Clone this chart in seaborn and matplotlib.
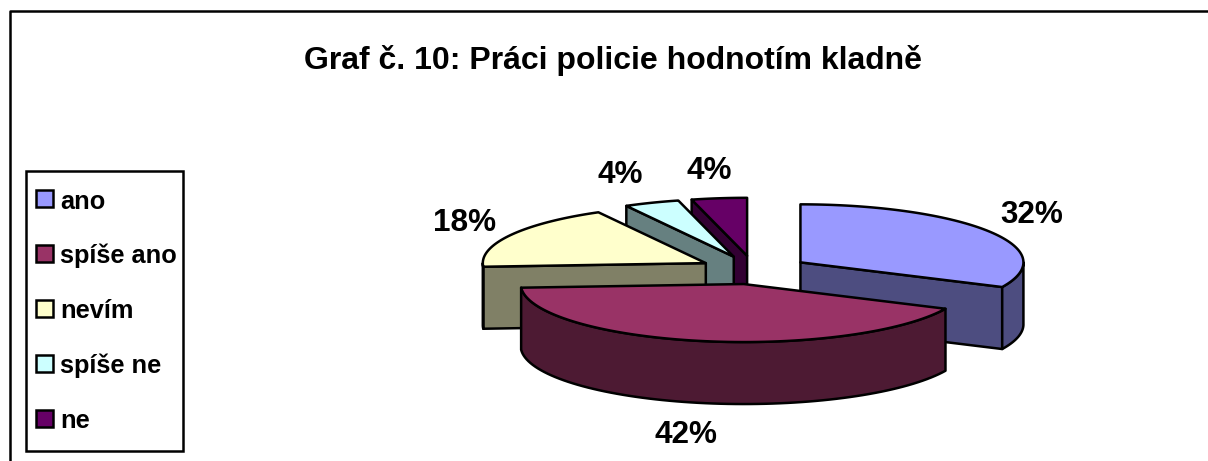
import matplotlib
matplotlib.use("Agg")
import matplotlib.pyplot as plt
import numpy as np
import seaborn as sns
from matplotlib.patches import Polygon, Rectangle

TITLE = "Graf č. 10: Práci policie hodnotím kladně"
CATEGORIES = ["ano", "spíše ano", "nevím", "spíše ne", "ne"]
VALUES = [32, 42, 18, 4, 4]
COLORS = ["#9999FF", "#993366", "#FFFFCC", "#CCFFFF", "#660066"]

# layout, in pixels of the 1208x461 picture
CENTER = (754, 270)
RX, RY = 223, 58
DEPTH = 62
EXPLODE = 0.2466
DRAW_ORDER = [4, 3, 2, 0, 1]
LABEL_POS = [(1032, 223), (686, 443), (465, 231), (620, 183), (709.5, 179)]
LINE = 1.8

sns.set_theme(style="white")
plt.rcParams["font.family"] = ["Liberation Sans", "DejaVu Sans"]


def rim_points(cx, cy, start, stop):
    angles = np.radians(np.linspace(start, stop, 80))
    return np.column_stack([cx + RX * np.sin(angles), cy - RY * np.cos(angles)])


def extrude(ax, top_edge, color):
    wall = np.vstack([top_edge, top_edge[::-1] + [0, DEPTH]])
    ax.add_patch(Polygon(wall, closed=True, facecolor=color, edgecolor="black", linewidth=LINE, joinstyle="round"))


def draw_slice(ax, start, stop, color):
    mid = np.radians((start + stop) / 2)
    cx = CENTER[0] + EXPLODE * RX * np.sin(mid)
    cy = CENTER[1] - EXPLODE * RY * np.cos(mid)
    side = np.array(color) * 0.5

    # cut faces turned towards the viewer
    if np.sin(np.radians(start)) < -1e-9:
        extrude(ax, np.vstack([[cx, cy], rim_points(cx, cy, start, start)[:1]]), side)
    if np.sin(np.radians(stop)) > 1e-9:
        extrude(ax, np.vstack([[cx, cy], rim_points(cx, cy, stop, stop)[:1]]), side)

    # only the front half of the rim shows
    low, high = max(start, 90), min(stop, 270)
    if low < high:
        extrude(ax, rim_points(cx, cy, low, high), side)

    top = np.vstack([[cx, cy], rim_points(cx, cy, start, stop)])
    ax.add_patch(Polygon(top, closed=True, facecolor=color, edgecolor="black", linewidth=LINE, joinstyle="round"))


def draw_legend(ax, palette):
    ax.add_patch(Rectangle((26, 171), 157, 280, facecolor="white", edgecolor="black", linewidth=LINE))
    for i, (name, color) in enumerate(zip(CATEGORIES, palette)):
        ax.add_patch(Rectangle((36, 190 + 55 * i), 17, 17, facecolor=color, edgecolor="black", linewidth=LINE))
        ax.text(60, 208.5 + 54.8 * i, name, fontsize=18.3, fontweight="bold", color="black", va="baseline")


def run():
    palette = sns.color_palette(COLORS)
    fig, ax = plt.subplots(figsize=(12.08, 4.61), dpi=100)
    fig.subplots_adjust(0, 0, 1, 1)
    ax.set_xlim(0, 1208)
    ax.set_ylim(461, 0)
    ax.axis("off")

    # chart border, cut by the picture on the right and bottom
    ax.plot([10, 10, 1208], [461, 11, 11], color="black", linewidth=LINE)

    ax.text(304, 69, TITLE, fontsize=23, fontweight="bold", color="black", va="baseline")

    edges = np.cumsum([0] + VALUES) / sum(VALUES) * 360
    for i in DRAW_ORDER:
        draw_slice(ax, edges[i], edges[i + 1], palette[i])

    for value, (x, y) in zip(VALUES, LABEL_POS):
        ax.text(x, y, f"{value}%", fontsize=22.7, fontweight="bold", color="black", ha="center", va="baseline")

    draw_legend(ax, palette)

    fig.savefig("out.png", dpi=100, facecolor="white")
    plt.close(fig)


if __name__ == "__main__":
    run()
